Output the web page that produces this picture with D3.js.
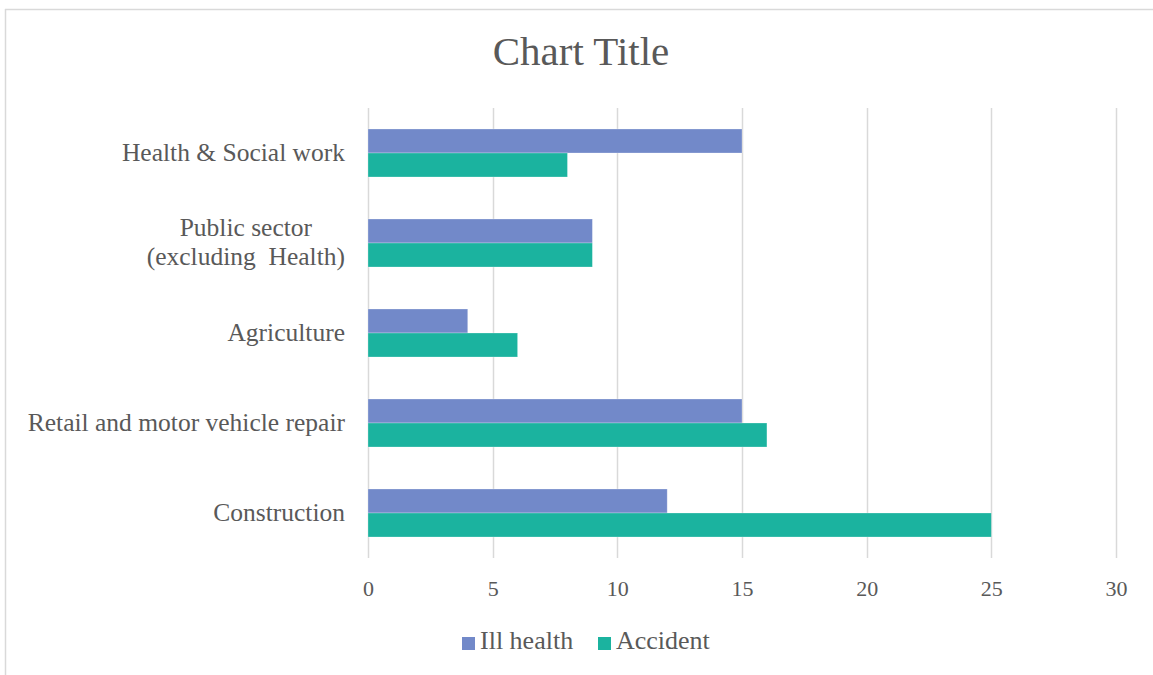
<!DOCTYPE html>
<html>
<head>
<meta charset="utf-8">
<script src="https://cdn.jsdelivr.net/npm/d3@7"></script>
<style>
  html, body { margin: 0; padding: 0; background: #ffffff; }
  svg text { font-family: "Liberation Serif", "DejaVu Serif", serif; fill: #595959; white-space: pre; }
</style>
</head>
<body>
<svg id="chart" width="1153" height="675"></svg>
<script>
// Industry categories, listed top to bottom
const categories = [
  ["Health & Social work"],
  ["Public sector", "(excluding  Health)"],
  ["Agriculture"],
  ["Retail and motor vehicle repair"],
  ["Construction"]
];
const seriesNames = ["Ill health", "Accident"];
const illHealth = [15, 9, 4, 15, 12];
const accident  = [8, 9, 6, 16, 25];
const xTicks = [0, 5, 10, 15, 20, 25, 30];
const colors = ["#7289C9", "#1BB39F"];

const svg = d3.select("#chart");

// Chart frame
svg.append("line").attr("x1", 5).attr("x2", 1153).attr("y1", 9.5).attr("y2", 9.5)
  .attr("stroke", "#d9d9d9").attr("stroke-width", 1.5);
svg.append("line").attr("x1", 5.5).attr("x2", 5.5).attr("y1", 9).attr("y2", 675)
  .attr("stroke", "#d9d9d9").attr("stroke-width", 1.5);

const plot = { left: 368, right: 1116, top: 108, bottom: 558 };

const x = d3.scaleLinear().domain([0, 30]).range([plot.left, plot.right]);
const keys = categories.map((c, i) => i);
const y = d3.scaleBand().domain(keys).range([plot.top, plot.bottom])
  .paddingInner(0.4667).paddingOuter(0.2333);
const ySub = d3.scaleBand().domain([0, 1]).range([0, y.bandwidth()]);

// Title
svg.append("text").attr("x", 581).attr("y", 65).attr("text-anchor", "middle")
  .style("font-size", "41px").text("Chart Title");

// Vertical gridlines
svg.append("g").selectAll("line").data(xTicks).join("line")
  .attr("x1", d => Math.round(x(d)) + 0.5).attr("x2", d => Math.round(x(d)) + 0.5)
  .attr("y1", plot.top).attr("y2", plot.bottom)
  .attr("stroke", "#d9d9d9").attr("stroke-width", 1.5);

// Value axis labels
const xAxis = d3.axisBottom(x).tickValues(xTicks).tickSize(0).tickPadding(0);
const gx = svg.append("g").attr("transform", `translate(0,${plot.bottom})`).call(xAxis);
gx.select(".domain").remove();
gx.selectAll("text").attr("y", 38).attr("dy", null)
  .style("font-size", "22px").style("font-family", "Liberation Serif").attr("fill", "#595959");

// Bars
const series = [illHealth, accident];
const bars = svg.append("g");
series.forEach((vals, s) => {
  bars.selectAll(null).data(vals).join("rect")
    .attr("x", x(0))
    .attr("y", (d, i) => y(i) + ySub(s))
    .attr("width", d => x(d) - x(0))
    .attr("height", ySub.bandwidth())
    .attr("fill", colors[s])
    .attr("stroke", "#ffffff").attr("stroke-opacity", 0.35).attr("stroke-width", 0.75);
});

// Category labels, right aligned; multi-line labels centred within their block
const labelRight = 345;
const lineH = 29;
categories.forEach((lines, i) => {
  const cy = y(i) + y.bandwidth() / 2;
  const g = svg.append("g");
  const texts = lines.map((ln, k) => g.append("text")
    .attr("y", cy + 8 + (k - (lines.length - 1) / 2) * lineH)
    .style("font-size", "25.5px").text(ln));
  const w = d3.max(texts, t => t.node().getComputedTextLength());
  texts.forEach(t => t.attr("x", labelRight - w / 2).attr("text-anchor", "middle"));
});

// Legend
const legendItems = [
  { name: seriesNames[0], color: colors[0], sx: 462, tx: 480 },
  { name: seriesNames[1], color: colors[1], sx: 598, tx: 616 }
];
const lg = svg.append("g");
legendItems.forEach(it => {
  lg.append("rect").attr("x", it.sx).attr("y", 637).attr("width", 13).attr("height", 13)
    .attr("fill", it.color);
  lg.append("text").attr("x", it.tx).attr("y", 649).style("font-size", "26px").text(it.name);
});
</script>
</body>
</html>
